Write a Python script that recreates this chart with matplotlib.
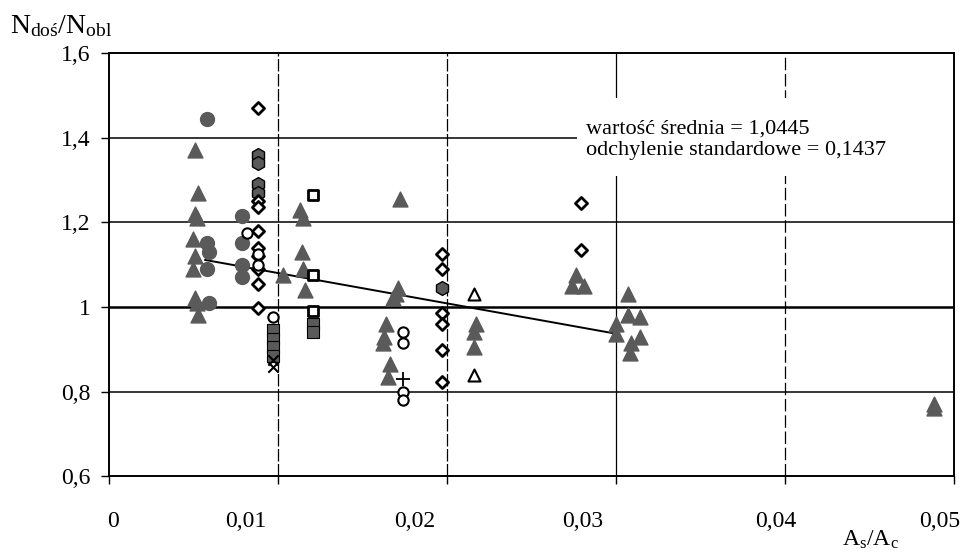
import matplotlib
matplotlib.use('Agg')
import matplotlib.pyplot as plt
import matplotlib.transforms as mtransforms
from matplotlib.patches import Rectangle

plt.rcParams['font.family'] = ['Liberation Serif', 'DejaVu Serif']
plt.rcParams['mathtext.fontset'] = 'custom'
plt.rcParams['mathtext.rm'] = 'Liberation Serif'
plt.rcParams['mathtext.it'] = 'Liberation Serif:italic'

# --- data ---
# filled grey triangles
tri_x = [0.0051, 0.0053, 0.0051, 0.0052, 0.0050, 0.0051, 0.0050, 0.0051, 0.0052, 0.0053,
         0.0103,
         0.0113, 0.0115, 0.0114, 0.0115, 0.0116,
         0.0172, 0.0171, 0.0170, 0.0168,
         0.0164, 0.0163, 0.0162, 0.0166, 0.0165,
         0.0217, 0.0216, 0.0216,
         0.0276, 0.0274, 0.0281,
         0.0307, 0.0307, 0.0314, 0.0300, 0.0300, 0.0314, 0.0309, 0.0308,
         0.0488, 0.0488]
tri_y = [1.37, 1.27, 1.22, 1.21, 1.16, 1.12, 1.09, 1.02, 1.01, 0.98,
         1.075,
         1.23, 1.21, 1.13, 1.09, 1.04,
         1.255, 1.045, 1.03, 1.02,
         0.96, 0.93, 0.915, 0.865, 0.835,
         0.96, 0.94, 0.905,
         1.075, 1.05, 1.05,
         1.03, 0.98, 0.975, 0.96, 0.935, 0.93, 0.915, 0.89,
         0.77, 0.76]

# filled grey circles
circ_x = [0.0058, 0.0058, 0.0059, 0.0058, 0.0059, 0.0079, 0.0079, 0.0079, 0.0079]
circ_y = [1.445, 1.15, 1.13, 1.09, 1.01, 1.215, 1.15, 1.10, 1.07]

# open circles
ring_x = [0.0082, 0.0088, 0.0088, 0.0097, 0.0174, 0.0174, 0.0174, 0.0174]
ring_y = [1.175, 1.125, 1.10, 0.975, 0.94, 0.915, 0.80, 0.78]

# filled grey hexagons
hex_x = [0.0088, 0.0088, 0.0088, 0.0088, 0.0197]
hex_y = [1.36, 1.34, 1.29, 1.27, 1.045]

# open diamonds
dia_x = [0.0088, 0.0088, 0.0088, 0.0088, 0.0088, 0.0088, 0.0088, 0.0088, 0.0088,
         0.0197, 0.0197, 0.0197, 0.0197, 0.0197, 0.0197,
         0.0279, 0.0279]
dia_y = [1.47, 1.25, 1.235, 1.18, 1.14, 1.12, 1.09, 1.055, 0.998,
         1.125, 1.09, 0.985, 0.96, 0.898, 0.822,
         1.245, 1.135]

# open squares
sq_x = [0.0121, 0.0121, 0.0121]
sq_y = [1.265, 1.075, 0.99]

# filled grey squares
fsq_x = [0.0097, 0.0097, 0.0097, 0.0097, 0.0121, 0.0121]
fsq_y = [0.945, 0.925, 0.905, 0.885, 0.96, 0.94]

# crosses / plus / open triangles
x_x = [0.0097, 0.0097]
x_y = [0.875, 0.858]
plus_x = [0.0174]
plus_y = [0.83]
otri_x = [0.0216, 0.0216]
otri_y = [1.03, 0.84]

# fitted trend line
trend_x = [0.0057, 0.0298]
trend_y = [1.111, 0.938]

stats_txt = 'wartość średnia = 1,0445\nodchylenie standardowe = 0,1437'

x_ticks = [0, 0.01, 0.02, 0.03, 0.04, 0.05]
x_labels = ['0', '0,01', '0,02', '0,03', '0,04', '0,05']
y_ticks = [0.6, 0.8, 1.0, 1.2, 1.4, 1.6]
y_labels = ['0,6', '0,8', '1', '1,2', '1,4', '1,6']

grey = '#5a5a5a'

fig = plt.figure(figsize=(9.71, 5.53), dpi=100)
ax = fig.add_axes([0.112, 0.139, 0.871, 0.765])

# grid
for yv in [0.8, 1.2, 1.4]:
    ax.axhline(yv, color='black', lw=1.1, zorder=1)
ax.axhline(1.0, color='black', lw=1.8, zorder=1)
for xv, ls in zip([0.01, 0.02, 0.03, 0.04], [(0, (10, 2)), (0, (10, 2)), '-', (0, (10, 3))]):
    ax.axvline(xv, color='black', lw=0.9, linestyle=ls, zorder=1)

# white box behind the statistics text hides the grid there
ax.add_patch(Rectangle((0.0277, 1.31), 0.0223, 0.185, facecolor='white',
                       edgecolor='none', zorder=1.5))
ax.text(0.0282, 1.395, stats_txt, fontsize=16, va='center', ha='left',
        linespacing=1.15, zorder=5)

ax.plot(trend_x, trend_y, color='black', lw=1.4, zorder=2)

ax.scatter(tri_x, tri_y, marker='^', s=115, c=grey, edgecolors=grey, zorder=3)
ax.scatter(circ_x, circ_y, marker='o', s=100, c=grey, edgecolors=grey, zorder=3)
ax.scatter(hex_x, hex_y, marker='h', s=100, c=grey, edgecolors='black', linewidths=1, zorder=3)
ax.scatter(dia_x, dia_y, marker='D', s=38, c='white', edgecolors='black', linewidths=2, zorder=4)
ax.scatter(ring_x, ring_y, marker='o', s=55, c='white', edgecolors='black', linewidths=1.5, zorder=4)
ax.scatter(sq_x, sq_y, marker='s', s=60, c='white', edgecolors='black', linewidths=2, zorder=4)
ax.scatter(fsq_x, fsq_y, marker='s', s=75, c=grey, edgecolors='black', linewidths=0.8, zorder=3)
ax.scatter(otri_x, otri_y, marker='^', s=75, c='white', edgecolors='black', linewidths=1.5, zorder=4)
ax.scatter(x_x, x_y, marker='x', s=55, c='black', linewidths=1.5, zorder=4)
ax.scatter(plus_x, plus_y, marker='+', s=90, c='black', linewidths=1.3, zorder=4)

ax.set_xlim(0, 0.05)
ax.set_ylim(0.6, 1.6)
ax.set_xticks(x_ticks)
ax.set_xticklabels(x_labels, fontsize=17)
ax.set_yticks(y_ticks)
ax.set_yticklabels(y_labels, fontsize=17)
ax.tick_params(axis='x', direction='out', length=6, width=1, pad=19)
ax.tick_params(axis='y', direction='out', length=6, width=1, pad=7)
# the scanned labels sit a little left of their ticks, unevenly
label_shift_px = [4, -32, -32, -34, -10, -15]
for lab, dx in zip(ax.get_xticklabels(), label_shift_px):
    lab.set_transform(lab.get_transform() +
                      mtransforms.ScaledTranslation(dx / 100, 0, fig.dpi_scale_trans))

for sp in ax.spines.values():
    sp.set_linewidth(1.4)
    sp.set_color('black')

fig.text(0.010, 0.953, r'N$_{\mathrm{doś}}$/N$_{\mathrm{obl}}$', fontsize=20, ha='left', va='center')
fig.text(0.896, 0.024, r'A$_{\mathrm{s}}$/A$_{\mathrm{c}}$', fontsize=17, ha='center', va='center')

fig.savefig('out.png', dpi=100, facecolor='white')
